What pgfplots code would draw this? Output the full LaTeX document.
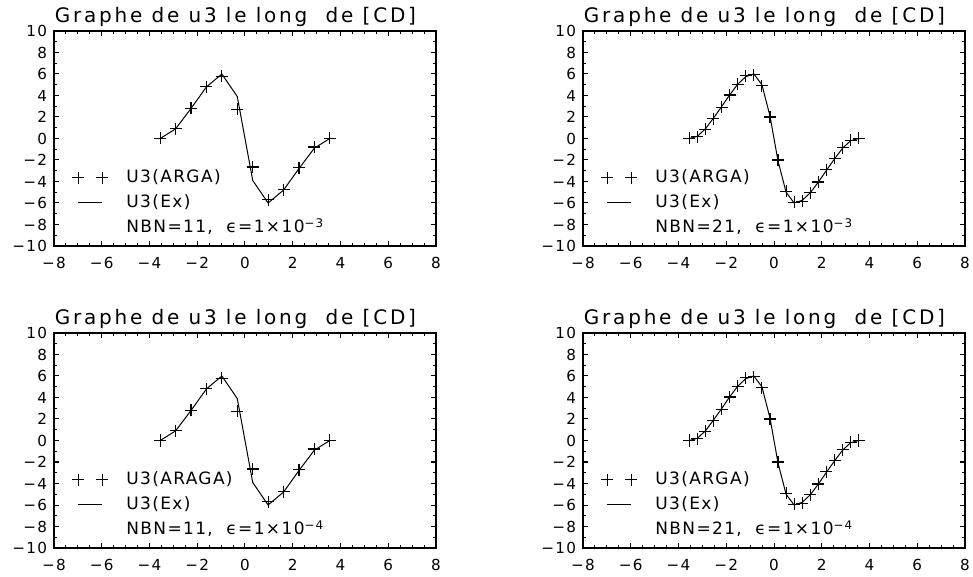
\documentclass[border=0pt]{standalone}
\usepackage{fontspec}
\setmainfont{DejaVu Sans}
\newfontfamily\ttlfont[LetterSpace=14]{DejaVu Sans}
\newfontfamily\tickfont[LetterSpace=8]{DejaVu Sans}
\newfontfamily\legfont[LetterSpace=8]{DejaVu Sans}
\usepackage{pgfplots}
\usepackage{pgfplotstable}
\pgfplotsset{compat=1.18}

\pgfplotstableread{
x y
-3.550 0
-2.905 0.9
-2.259 2.8
-1.614 4.8
-0.968 5.8
-0.323 2.7
0.323 -2.65
0.968 -5.7
1.614 -4.75
2.259 -2.7
2.905 -0.8
3.550 0
}\argaA
\pgfplotstableread{
x y
-3.550 0
-2.905 0.9
-2.259 2.8
-1.614 4.8
-0.968 6.0
-0.323 3.9
0.323 -3.9
0.968 -6.0
1.614 -4.8
2.259 -2.8
2.905 -0.9
3.550 0
}\exA
\pgfplotstableread{
x y
-3.550 0
-3.212 0.15
-2.874 0.85
-2.536 1.85
-2.198 2.9
-1.860 4.05
-1.521 5.05
-1.183 5.85
-0.845 5.95
-0.507 4.9
-0.169 2.0
0.169 -2.0
0.507 -4.9
0.845 -5.95
1.183 -5.85
1.521 -5.05
1.860 -4.05
2.198 -2.9
2.536 -1.85
2.874 -0.85
3.212 -0.15
3.550 0
}\argaB
\pgfplotstableread{
x y
-3.550 0
-3.212 0.2
-2.874 0.9
-2.536 1.9
-2.198 2.95
-1.860 4.05
-1.521 5.05
-1.183 5.75
-0.845 6.0
-0.507 5.0
-0.169 2.1
0.169 -2.1
0.507 -5.0
0.845 -6.0
1.183 -5.75
1.521 -5.05
1.860 -4.05
2.198 -2.95
2.536 -1.9
2.874 -0.9
3.212 -0.2
3.550 0
}\exB

\pgfplotsset{
  panel/.style={
    scale only axis, width=191pt, height=107.5pt, anchor=south west,
    xmin=-8,xmax=8,ymin=-10,ymax=10,
    xtick={-8,-6,...,8}, ytick={-10,-8,...,10},
    xticklabels={−8,−6,−4,−2,0,2,4,6,8},
    yticklabels={−10,−8,−6,−4,−2,0,2,4,6,8,10},
    minor x tick num=3, minor y tick num=1,
    tick align=inside, xtick pos=both, ytick pos=both,
    xticklabel pos=lower, yticklabel pos=left,
    major tick length=2.5pt, minor tick length=1.3pt,
    axis line style={line width=0.6pt},
    every tick/.style={black, line width=0.5pt},
    tick label style={font=\tickfont\fontsize{7.6}{8}\selectfont},
    xticklabel style={yshift=-2pt},
    every axis title/.style={at={(0.475,1)}, anchor=base, yshift=4pt,
      font=\ttlfont\fontsize{10}{11}\selectfont},
    legend style={draw=none, fill=none, at={(0.047,0.358)}, anchor=north west,
      font=\legfont\fontsize{8.5}{10}\selectfont, inner sep=0pt,
      row sep=4.3pt, column sep=9pt,
      nodes={inner sep=0pt, text height=6.5pt, text depth=1.8pt}},
    legend cell align=left,
    title={Graphe de u3 le long \ de [CD]},
  },
  arga/.style={only marks, mark=+, mark size=3pt, mark options={line width=0.6pt}, black,
    legend image code/.code={\draw[/tikz/only marks, mark=+, mark size=3pt, line width=0.6pt] plot coordinates {(0pt,0pt) (12pt,0pt)};}},
  exl/.style={no marks, black, line width=0.5pt,
    legend image code/.code={\draw[line width=0.5pt] (0pt,0pt) -- (12pt,0pt);}},
}

\begin{document}
\begin{tikzpicture}
\path[use as bounding box] (0,0) rectangle (486.5pt,288.5pt);

\begin{axis}[panel, at={(27pt,165.5pt)}]
\addplot[arga] table {\argaA}; \addlegendentry{U3(ARGA)}
\addplot[exl] table {\exA}; \addlegendentry{U3(Ex)}
\addlegendimage{legend image code/.code={}}
\addlegendentry{NBN=11,\ \ ϵ=1×10\textsuperscript{−3}}
\end{axis}

\begin{axis}[panel, at={(291.5pt,165.5pt)}]
\addplot[arga] table {\argaB}; \addlegendentry{U3(ARGA)}
\addplot[exl] table {\exB}; \addlegendentry{U3(Ex)}
\addlegendimage{legend image code/.code={}}
\addlegendentry{NBN=21,\ \ ϵ=1×10\textsuperscript{−3}}
\end{axis}

\begin{axis}[panel, at={(27pt,14.5pt)}]
\addplot[arga] table {\argaA}; \addlegendentry{U3(ARAGA)}
\addplot[exl] table {\exA}; \addlegendentry{U3(Ex)}
\addlegendimage{legend image code/.code={}}
\addlegendentry{NBN=11,\ \ ϵ=1×10\textsuperscript{−4}}
\end{axis}

\begin{axis}[panel, at={(291.5pt,14.5pt)}]
\addplot[arga] table {\argaB}; \addlegendentry{U3(ARGA)}
\addplot[exl] table {\exB}; \addlegendentry{U3(Ex)}
\addlegendimage{legend image code/.code={}}
\addlegendentry{NBN=21,\ \ ϵ=1×10\textsuperscript{−4}}
\end{axis}
\end{tikzpicture}
\end{document}
